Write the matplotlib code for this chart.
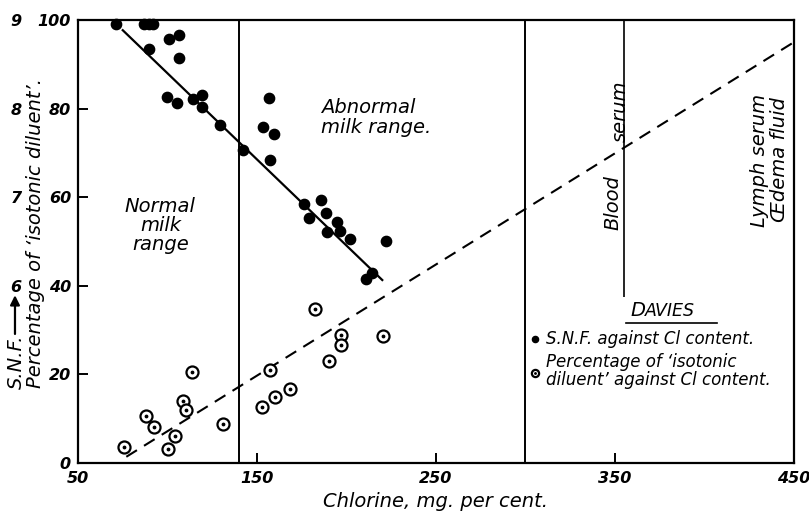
import matplotlib
matplotlib.use("Agg")
import matplotlib.pyplot as plt
from matplotlib.legend_handler import HandlerTuple

# --- data (Davies) ---
# S.N.F. points, plotted on the percentage scale (9 S.N.F. = 100 %, 6 S.N.F. = 40 %)
snf_cl = [71, 87, 89.5, 92, 89.7, 101, 106.4, 106.6, 99.5, 105.3, 114.4, 119.4, 119.4,
          129.3, 142, 156.9, 153.5, 159.5, 157.3, 176.3, 185.6, 178.8, 188.5, 194.5,
          188.9, 196.4, 201.9, 221.9, 210.7, 214]
snf_pct = [99, 99, 99, 99, 93.4, 95.6, 96.6, 91.4, 82.6, 81.2, 82.1, 83.1, 80.4,
           76.3, 70.6, 82.5, 75.9, 74.2, 68.4, 58.4, 59.4, 55.4, 56.4, 54.3,
           52.2, 52.4, 50.6, 50.1, 41.5, 42.8]

# percentage of 'isotonic diluent'
iso_cl = [75.9, 88, 92.5, 100.4, 104, 108.8, 110.3, 113.5, 131.2, 152.6, 157.3,
          160.3, 168.2, 182.3, 190.1, 197.1, 196.7, 220.2]
iso_pct = [3.6, 10.5, 8.1, 3.1, 6.2, 14.1, 12.0, 20.5, 8.9, 12.7, 21.0,
           14.8, 16.8, 34.8, 23.1, 28.9, 26.6, 28.7]

# fitted lines
snf_fit_x = [75, 220]
snf_fit_y = [97.7, 41.3]
iso_fit_x = [77, 450]
iso_fit_y = [1.4, 95]

# range boundaries / reference fluids (chlorine, mg per cent)
normal_limit = 140
abnormal_limit = 300
blood_serum_cl = 355
blood_serum_y = [37.5, 100]

x_ticks = [50, 150, 250, 350, 450]
y_ticks = [0, 20, 40, 60, 80, 100]
snf_ticks = [6, 7, 8, 9]

# ------------------------------------------------
FONT = "DejaVu Sans"
tick_kw = dict(family=FONT, style="italic", weight="bold", size=11.5)
txt_kw = dict(family=FONT, style="italic", size=14)

fig = plt.figure(figsize=(8.09, 5.13), dpi=100)
ax = fig.add_axes([0.0964, 0.0975, 0.885, 0.8635])

ax.set_xlim(50, 450)
ax.set_ylim(0, 100)

for s in ax.spines.values():
    s.set_linewidth(1.6)

ax.set_xticks(x_ticks)
ax.set_yticks(y_ticks)
ax.tick_params(direction="in", length=7, width=1.4, pad=5)
ax.tick_params(axis="x", pad=6)
for lab in ax.get_xticklabels() + ax.get_yticklabels():
    lab.set(**tick_kw)

# second scale: S.N.F.
sec = ax.secondary_yaxis(-0.075, functions=(lambda y: 4 + y / 20, lambda s: (s - 4) * 20))
sec.set_yticks(snf_ticks)
sec.spines["left"].set_visible(False)
sec.tick_params(length=0, pad=2)
for lab in sec.get_yticklabels():
    lab.set(**tick_kw)

ax.set_xlabel("Chlorine, mg. per cent.", **txt_kw)
ax.xaxis.set_label_coords(0.5, -0.065)
ax.set_ylabel("Percentage of \u2018isotonic diluent\u2019.", **txt_kw)
ax.yaxis.set_label_coords(-0.046, 0.52)

fig.text(0.02, 0.295, "S.N.F.", rotation=90, ha="center", va="center", **txt_kw)
ax.annotate("", xy=(-0.088, 0.385), xytext=(-0.088, 0.285), xycoords="axes fraction",
            arrowprops=dict(arrowstyle="-|>", color="black", lw=1.6, mutation_scale=14))

# boundaries
ax.axvline(normal_limit, color="black", lw=1.4)
ax.axvline(abnormal_limit, color="black", lw=1.4)
ax.vlines(blood_serum_cl, blood_serum_y[0], blood_serum_y[1], color="black", lw=1.2)

# fits
ax.plot(snf_fit_x, snf_fit_y, color="black", lw=1.6)
ax.plot(iso_fit_x, iso_fit_y, color="black", lw=1.5, dashes=(6, 4))

# points
dots = ax.scatter(snf_cl, snf_pct, s=55, color="black", zorder=3, clip_on=False)
rings = ax.scatter(iso_cl, iso_pct, s=75, facecolor="white", edgecolor="black",
                   linewidths=1.6, zorder=3)
centres = ax.scatter(iso_cl, iso_pct, s=3, color="black", zorder=4)

# annotations
ax.text(96, 53.5, "Normal\nmilk\nrange", ha="center", va="center", linespacing=1.0, **txt_kw)
ax.text(186, 78, "Abnormal\nmilk range.", ha="left", va="center", linespacing=1.05, **txt_kw)
ax.text(349, 58.7, "Blood", rotation=90, ha="center", va="center", **txt_kw)
ax.text(353, 79.5, "serum", rotation=90, ha="center", va="center", **txt_kw)
ax.text(431, 68.4, "Lymph serum", rotation=90, ha="center", va="center", **txt_kw)
ax.text(442, 68.4, "\u0152dema fluid", rotation=90, ha="center", va="center", **txt_kw)

# key
ax.text(358.5, 33.2, "D", ha="left", va="baseline", **txt_kw)
ax.text(367, 33.2, "AVIES", ha="left", va="baseline", family=FONT, style="italic", size=12.5)
ax.plot([356, 407], [31.6, 31.6], color="black", lw=1.2)

leg = ax.legend([dots, (rings, centres)],
                ["S.N.F. against Cl content.",
                 "Percentage of \u2018isotonic\ndiluent\u2019 against Cl content."],
                handler_map={tuple: HandlerTuple(ndivide=1, pad=0)},
                loc="upper left", bbox_to_anchor=(0.61, 0.335), frameon=False,
                handlelength=0.6, handletextpad=0.4, labelspacing=0.3,
                markerscale=0.6, prop=dict(family=FONT, style="italic", size=12))
for t in leg.get_texts():
    t.set_linespacing(1.0)

fig.savefig("out.png", dpi=100)
